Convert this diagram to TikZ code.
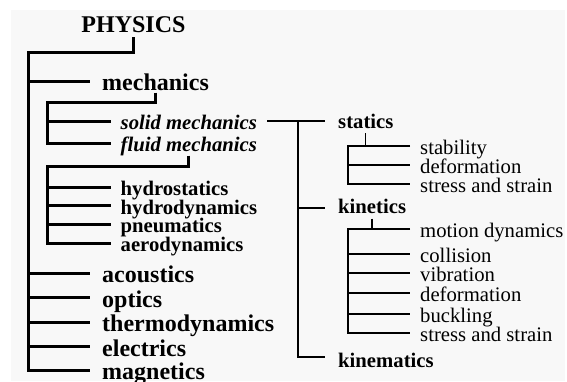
\documentclass[tikz,border=0pt]{standalone}
\usepackage{fontspec}
\setmainfont{Liberation Serif}
\definecolor{bg}{HTML}{F8F8F8}
\begin{document}
\begin{tikzpicture}[x=1pt,y=-1pt,
  thickline/.style={line width=3pt, line join=miter},
  thinline/.style={line width=1.3pt, line join=miter},
  toplabel/.style={font=\fontsize{24}{26}\selectfont\bfseries, inner sep=0pt, anchor=base},
  lone/.style={font=\fontsize{24}{26}\selectfont\bfseries, inner sep=0pt, anchor=west, text height=21pt, text depth=2pt},
  ltwo/.style={font=\fontsize{20.7}{22}\selectfont\bfseries, inner sep=0pt, anchor=west, text height=21pt, text depth=4pt},
  ltwoit/.style={ltwo, font=\fontsize{20.7}{22}\selectfont\bfseries\itshape},
  rbold/.style={font=\fontsize{20.7}{22}\selectfont\bfseries, inner sep=0pt, anchor=west, text depth=5pt},
  lthree/.style={font=\fontsize{20.7}{22}\selectfont, inner sep=0pt, anchor=west, text height=16pt, text depth=0pt}
]
\useasboundingbox (0,0) rectangle (567,381);
\fill[bg] (11,10) rectangle (565,381);

% left tree
\node[toplabel] (physics) at (133.5,32) {PHYSICS};
\node[lone] (mech) at (102,81) {mechanics};
\node[ltwoit] (solid) at (120.5,121) {solid mechanics};
\node[ltwoit] (fluid) at (120.5,143) {fluid mechanics};
\node[ltwo] (hs) at (120.5,187) {hydrostatics};
\node[ltwo] (hd) at (120.5,205.5) {hydrodynamics};
\node[ltwo] (pn) at (120.5,224) {pneumatics};
\node[ltwo] (ae) at (120.5,243) {aerodynamics};
\node[lone] (ac) at (102,273) {acoustics};
\node[lone] (op) at (102,297.5) {optics};
\node[lone] (th) at (102,322) {thermodynamics};
\node[lone] (el) at (102,346.5) {electrics};
\node[lone] (mg) at (102,370) {magnetics};

% right tree
\node[rbold, text height=19pt] (statics) at (338,121) {statics};
\node[rbold, text height=16pt] (kinetics) at (338,208) {kinetics};
\node[rbold, text height=25pt] (kinematics) at (338,357) {kinematics};

\node[lthree] (stab) at (420,146) {stability};
\node[lthree] (defa) at (420,165) {deformation};
\node[lthree] (ssa) at (420,184) {stress and strain};
\node[lthree] (motion) at (420,229) {motion dynamics};
\node[lthree] (coll) at (420,254) {collision};
\node[lthree] (vib) at (420,273) {vibration};
\node[lthree] (defb) at (420,293) {deformation};
\node[lthree] (buck) at (420,314) {buckling};
\node[lthree] (ssb) at (420,333) {stress and strain};

% junction coordinates
\coordinate (T0) at (28,52);
\coordinate (T1) at (47,102);
\coordinate (T2) at (47,166);
\coordinate (T3) at (298,121);
\coordinate (T4) at (348,146);
\coordinate (T5) at (348,229);

% connectors, left
\draw[thickline] ([shift={(0,5)}]physics.south) |- (T0) |- ([shift={(-12,0)}]mg.west);
\foreach \n in {mech,ac,op,th,el}
  \draw[thickline] (T0 |- \n.west) -- ([shift={(-12,0)}]\n.west);

\draw[thickline] (mech.south) |- (T1) |- ([shift={(-9.5,0)}]fluid.west);
\draw[thickline] (T1 |- solid.west) -- ([shift={(-9.5,0)}]solid.west);

\draw[thickline] (fluid.south) |- (T2) |- ([shift={(-9.5,0)}]ae.west);
\foreach \n in {hs,hd,pn}
  \draw[thickline] (T2 |- \n.west) -- ([shift={(-9.5,0)}]\n.west);

% connectors, right
\draw[thinline] ([shift={(10,0)}]solid.east) -- ([shift={(-13,0)}]statics.west);
\draw[thinline] (T3) |- ([shift={(-13,0)}]kinematics.west);
\draw[thinline] (T3 |- kinetics.west) -- ([shift={(-13,0)}]kinetics.west);

\draw[thinline] (statics.south) -- (statics.south |- stab.west);
\draw[thinline] ([shift={(-10,0)}]stab.west) -| (T4) |- ([shift={(-10,0)}]ssa.west);
\draw[thinline] (T4 |- defa.west) -- ([shift={(-10,0)}]defa.west);

\draw[thinline] (kinetics.south) -- (kinetics.south |- motion.west);
\draw[thinline] ([shift={(-10,0)}]motion.west) -| (T5) |- ([shift={(-10,0)}]ssb.west);
\foreach \n in {coll,vib,defb,buck}
  \draw[thinline] (T5 |- \n.west) -- ([shift={(-10,0)}]\n.west);
\end{tikzpicture}
\end{document}
